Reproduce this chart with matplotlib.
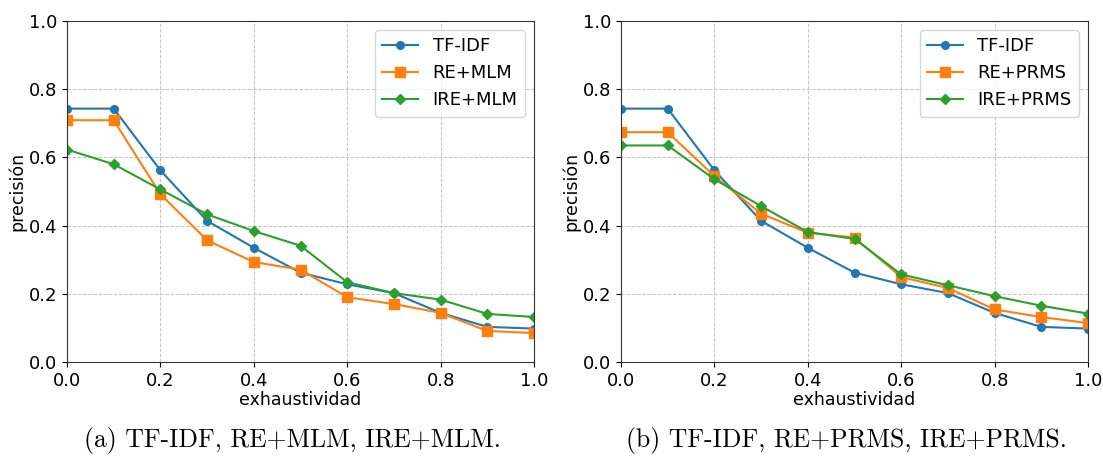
import matplotlib.pyplot as plt

W, H = 1103, 457

recall = [0.0, 0.1, 0.2, 0.3, 0.4, 0.5, 0.6, 0.7, 0.8, 0.9, 1.0]

tfidf = [0.743, 0.743, 0.562, 0.414, 0.335, 0.262, 0.228, 0.202, 0.144, 0.103, 0.098]
re_mlm = [0.709, 0.709, 0.492, 0.357, 0.293, 0.271, 0.190, 0.170, 0.144, 0.091, 0.085]
ire_mlm = [0.623, 0.580, 0.506, 0.433, 0.384, 0.341, 0.234, 0.202, 0.183, 0.141, 0.132]
re_prms = [0.674, 0.674, 0.545, 0.435, 0.379, 0.365, 0.249, 0.217, 0.154, 0.132, 0.114]
ire_prms = [0.635, 0.635, 0.536, 0.457, 0.381, 0.361, 0.257, 0.225, 0.193, 0.165, 0.142]

panels = [
    (67, ["TF-IDF", "RE+MLM", "IRE+MLM"], [tfidf, re_mlm, ire_mlm],
     "(a) TF-IDF, RE+MLM, IRE+MLM."),
    (621, ["TF-IDF", "RE+PRMS", "IRE+PRMS"], [tfidf, re_prms, ire_prms],
     "(b) TF-IDF, RE+PRMS, IRE+PRMS."),
]

colors = ['#1f77b4', '#ff7f0e', '#2ca02c']
markers = ['o', 's', 'D']
msizes = [5.5, 6.5, 5]

fig = plt.figure(figsize=(W / 100, H / 100), dpi=100)

for x0, names, series, caption in panels:
    ax = fig.add_axes([x0 / W, (H - 362) / H, 467 / W, 341 / H])
    for name, ys, c, m, ms in zip(names, series, colors, markers, msizes):
        ax.plot(recall, ys, color=c, marker=m, markersize=ms, linewidth=1.5, label=name)
    ax.set_xlim(0, 1)
    ax.set_ylim(0, 1)
    ax.set_xticks([0, 0.2, 0.4, 0.6, 0.8, 1.0])
    ax.set_yticks([0, 0.2, 0.4, 0.6, 0.8, 1.0])
    ax.tick_params(labelsize=13)
    ax.grid(True, linestyle='--', color='#c4c4c4', linewidth=0.7)
    ax.set_xlabel("exhaustividad", fontsize=12.5, labelpad=1)
    ax.set_ylabel("precisión", fontsize=12.5, labelpad=2)
    ax.legend(loc='upper right', fontsize=13)
    for s in ax.spines.values():
        s.set_color('#333333')
    fig.text((x0 + 225) / W, 1 - 441 / H, caption, ha='center', va='center',
             fontsize=18.5, family='cmr10')

fig.savefig("out.png", dpi=100)
